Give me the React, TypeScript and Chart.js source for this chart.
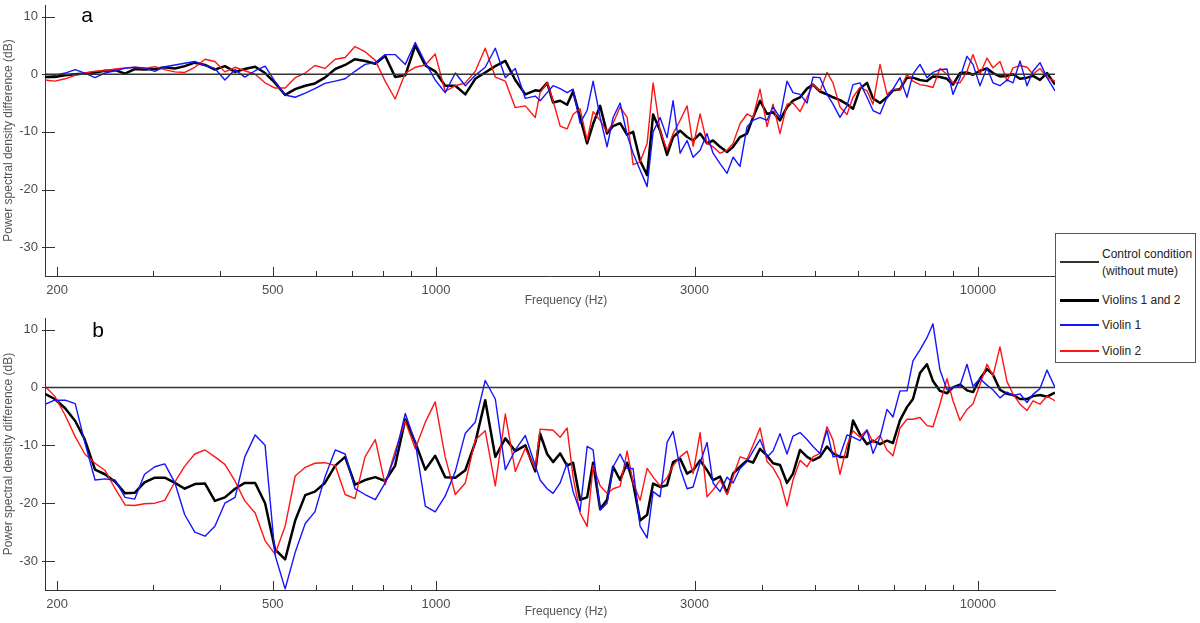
import React, { useEffect, useRef } from 'react';
import { Chart, registerables } from 'chart.js';

Chart.register(...registerables);

// frequency grid (Hz) shared by both panels
const freqs = [
  190, 198, 207, 216, 225, 235, 245, 256, 267, 278, 290, 303, 316, 330, 344, 359, 375, 391, 408, 426,
  444, 464, 484, 505, 527, 550, 574, 598, 624, 652, 680, 709, 740, 773, 806, 841, 878, 916, 956, 997,
  1040, 1086, 1133, 1182, 1233, 1287, 1343, 1401, 1462, 1525,
  1557, 1604, 1645, 1695, 1746, 1791, 1845, 1901, 1950, 2009, 2069, 2123, 2187, 2253, 2311, 2381, 2453, 2516, 2592, 2670,
  2739, 2822, 2907, 2982, 3072, 3164, 3246, 3344, 3445, 3534, 3640, 3750, 3847, 3963, 4083, 4188, 4314, 4444, 4559, 4697,
  4839, 4963, 5113, 5267, 5403, 5566, 5734, 5882, 6060, 6243, 6404, 6597, 6796, 6971, 7181, 7398, 7589, 7818, 8054, 8262,
  8511, 8768, 8995, 9266, 9546, 9793, 10088, 10393, 10661, 10983, 11315, 11607, 11958, 12319, 12637, 13019, 13412, 13875,
];

// panel a
const aViolins12 = [
  -0.5, -0.5, -0.2, 0, 0.1, 0.3, 0.6, 0.7, 0.1, 0.9, 0.8, 0.9, 1.2, 1.0, 1.4, 2.0, 1.6, 0.8, 1.4, 0.4,
  0.9, 1.3, 0.2, -1.5, -3.6, -2.6, -2.0, -1.6, -0.6, 0.9, 1.6, 2.6, 2.3, 1.8, 3.2, -0.5, -0.2, 5.0, 1.5, 0.5,
  -2.0, -2.0, -3.5, -0.8, 0.3, 1.4, 2.3, -1.0, -3.5, -2.8,
  -2.9, -1.5, -4.9, -4.6, -5.3, -3.0, -7.5, -12.0, -8.6, -5.5, -10.3, -9.0, -8.5, -10.5, -10.0, -15.0, -17.5, -7.0, -9.8, -14.0,
  -10.9, -9.8, -10.9, -11.5, -10.3, -12.0, -11.5, -12.6, -13.5, -12.6, -10.9, -10.3, -7.5, -4.6, -6.9, -6.6, -8.0, -5.7, -4.6, -4.0,
  -2.5, -1.8, -3.0, -3.5, -4.0, -4.5, -5.2, -6.0, -2.5, -1.5, -4.2, -5.0, -4.0, -2.8, -2.6, -0.6, -0.6, -1.0, -1.2, -0.4,
  -0.5, -0.8, -1.8, 0.2, 0.3, -0.1, 0.6, 1.0, 0.2, -0.4, -0.3, 0, -0.8, -0.6, -0.3, -1.0, 0.2, -1.8,
];
const aViolin1 = [
  0, -0.2, 0.2, 0.8, 0.2, -0.6, 0.2, 0.6, 1.0, 1.2, 1.1, 0.5, 1.3, 1.6, 1.9, 2.2, 1.5, 1.0, -1.0, 0.8,
  -0.5, 0.6, 1.4, -1.3, -3.6, -4.0, -3.3, -2.5, -1.6, -1.2, -0.8, 0.5, 1.7, 2.0, 3.4, 3.4, 1.7, 5.5, 2.0, -1.0,
  -3.2, 0.2, -2.0, -0.2, 1.2, 4.5, -0.6, 1.0, -4.2, -3.8,
  -4.6, -3.2, -2.0, -2.5, -3.2, -2.6, -8.5, -6.3, -1.2, -7.5, -12.6, -7.5, -5.0, -10.5, -13.7, -16.6, -19.5, -10.0, -7.5, -11.0,
  -4.6, -13.7, -11.5, -14.4, -13.2, -10.3, -13.7, -15.5, -17.2, -14.4, -16.0, -9.1, -8.0, -7.5, -8.0, -5.7, -7.5, -1.2, -3.2, -3.5,
  -5.0, -0.5, -0.6, -3.5, -5.2, -7.5, -5.5, -1.8, -1.5, -4.0, -6.3, -6.9, -4.0, -2.6, -0.6, -4.0, 0, 1.7, -0.6, 0.3,
  0.8, 0.9, -3.5, -0.6, 3.1, 1.7, -2.0, 1.1, -1.5, -2.0, -1.0, -1.5, 2.3, -2.0, 0.5, 2.0, -0.6, -2.9,
];
const aViolin2 = [
  -1.0, -1.2, -0.8, -0.2, 0.2, 0.5, 0.6, 0.9, 1.1, 1.2, 1.0, 1.3, 0.8, 0.4, 0.3, 1.2, 2.6, 2.2, 0.4, 1.2,
  0.6, 0, -1.5, -2.4, -2.4, -0.6, 0.2, 1.5, 1.0, 2.6, 2.9, 4.8, 3.9, 2.4, -1.2, -4.3, 0.2, 1.2, 1.6, 3.5,
  -3.0, -2.0, -1.5, 0.5, 4.5, -0.5, -1.2, -5.8, -5.5, -7.5,
  -3.2, -1.5, -4.6, -9.0, -9.5, -7.0, -6.0, -11.5, -6.5, -8.0, -10.0, -8.5, -5.7, -7.5, -15.7, -15.2, -12.0, -1.5, -9.8, -13.2,
  -10.3, -8.0, -5.5, -12.5, -6.9, -12.0, -12.6, -13.7, -13.2, -12.0, -8.6, -6.9, -7.5, -2.6, -9.1, -5.2, -10.3, -5.2, -5.0, -6.5,
  -4.0, -1.8, -2.9, 0.3, -1.5, -5.7, -7.0, -4.0, -2.3, -2.9, -5.2, 1.7, -3.5, -2.6, -2.8, 0, -1.2, -1.8, -2.0, -2.3,
  1.0, 0, -1.5, -1.5, 0.5, 3.4, 0, 2.8, 1.1, 2.2, -1.2, 1.1, 1.5, 1.2, 0, 1.0, -0.6, -1.2,
];

// panel b
const bViolins12 = [
  -1.1, -2.0, -3.6, -5.8, -9.0, -14.2, -15.0, -16.3, -18.3, -18.2, -16.4, -15.6, -15.6, -16.5, -17.5, -16.7, -16.6, -19.6, -19.0, -17.5,
  -16.5, -16.5, -20.0, -28.0, -29.7, -23.0, -18.6, -18.0, -16.5, -13.5, -12.0, -16.8, -16.0, -15.5, -16.2, -13.5, -5.5, -9.5, -14.2, -11.8,
  -15.5, -15.6, -14.3, -9.5, -2.2, -12.0, -8.8, -11.0, -10.0, -14.5,
  -8.0, -11.5, -12.9, -11.4, -13.5, -13.0, -19.4, -19.0, -13.0, -21.0, -19.4, -13.7, -16.0, -13.0, -16.5, -23.0, -22.0, -16.6, -17.2, -16.9,
  -12.9, -12.3, -14.9, -14.3, -12.6, -14.3, -16.0, -15.4, -18.3, -14.9, -13.7, -12.6, -13.0, -10.6, -11.8, -13.1, -13.4, -16.5, -14.9, -10.8,
  -12.0, -12.6, -12.0, -10.2, -11.4, -12.0, -12.0, -5.7, -8.1, -9.8, -9.2, -9.8, -9.2, -9.6, -5.7, -3.4, -2.0, 2.5, 4.0, 1.1,
  -0.6, -1.0, 0, 0.5, -0.5, -0.8, 1.5, 3.2, 2.2, -0.4, -1.1, -1.3, -2.0, -2.0, -1.5, -1.3, -1.6, -0.9,
];
const bViolin1 = [
  -2.9, -2.2, -2.2, -2.8, -9.5, -16.0, -15.8, -16.0, -19.0, -19.3, -15.0, -13.7, -13.2, -16.5, -22.0, -25.0, -25.7, -24.0, -20.0, -19.0,
  -12.0, -8.2, -10.0, -29.0, -34.8, -28.5, -23.5, -21.5, -15.5, -10.8, -11.5, -17.5, -18.5, -19.4, -16.5, -11.8, -4.5, -9.5, -20.5, -21.5,
  -18.8, -14.5, -7.9, -6.0, 1.2, -2.0, -14.2, -10.8, -8.3, -13.5,
  -16.0, -17.5, -18.3, -16.5, -13.1, -18.0, -21.4, -10.2, -10.8, -21.2, -20.0, -13.7, -11.5, -14.0, -14.0, -24.0, -26.0, -18.0, -18.9, -9.5,
  -7.6, -14.0, -17.5, -17.2, -13.0, -9.5, -16.5, -18.0, -15.5, -16.5, -14.0, -12.8, -11.0, -9.0, -12.0, -11.0, -8.0, -11.5, -8.4, -7.8,
  -9.0, -10.2, -11.4, -7.4, -12.0, -11.8, -8.2, -8.6, -9.2, -7.4, -11.4, -8.6, -3.8, -5.1, -0.6, -0.6, 4.6, 6.5, 8.6, 11.0,
  3.0, -0.4, 0, 0.3, 4.0, 0.2, 1.5, 0.4, -0.4, -1.8, -0.8, -1.4, -1.1, -2.6, -1.2, -0.2, 3.0, 0,
];
const bViolin2 = [
  0.2, -1.5, -4.8, -8.5, -11.5, -13.1, -14.3, -17.5, -20.3, -20.4, -20.1, -20.0, -19.5, -16.3, -13.6, -11.5, -10.8, -12.0, -13.3, -16.2,
  -19.6, -21.7, -26.5, -28.8, -24.0, -15.3, -13.8, -13.1, -13.0, -13.5, -18.5, -19.2, -12.0, -9.0, -16.8, -11.0, -5.8, -10.6, -6.0, -2.5,
  -12.0, -18.5, -16.5, -9.1, -7.5, -17.0, -4.6, -14.5, -10.5, -14.0,
  -7.2, -7.3, -7.4, -8.6, -7.0, -15.5, -21.7, -24.0, -13.5, -17.0, -18.3, -17.5, -17.1, -11.0, -16.5, -19.5, -14.0, -15.5, -17.0, -15.6,
  -13.5, -12.0, -11.0, -14.9, -7.8, -18.9, -17.7, -16.0, -18.5, -15.4, -12.0, -12.4, -10.0, -7.0, -12.8, -13.9, -16.0, -20.5, -16.0, -12.6,
  -13.7, -12.0, -11.4, -6.8, -9.1, -15.0, -10.0, -7.5, -8.6, -7.3, -9.5, -8.3, -10.8, -11.8, -7.0, -5.5, -5.5, -5.2, -6.6, -6.8,
  -2.9, 1.5, -2.3, -5.7, -3.8, -2.8, 0.5, 4.0, 2.0, 7.0, 1.0, -1.1, -2.9, -4.0, -2.3, -2.9, -1.5, -2.3,
];

// control condition (without mute) is the 0 dB reference
const controlFreqs = [190, 13875];
const controlValues = [0, 0];

const majorTicks = [200, 500, 1000, 3000, 10000];
const minorTicks = [300, 400, 600, 700, 800, 900, 2000, 4000, 5000, 6000, 7000, 8000, 9000];
const yTicks = [-30, -20, -10, 0, 10];

const FONT = '"Liberation Sans", Arial, sans-serif';

const toPoints = (xs: number[], ys: number[]) => xs.map((x, i) => ({ x, y: ys[i] }));

// MATLAB-like ticks drawn inward, plus panel letter and x label
const panelDecor = {
  id: 'panelDecor',
  afterDraw(chart: any, _args: any, opts: any) {
    const { ctx, chartArea, scales } = chart;
    ctx.save();
    ctx.strokeStyle = '#333';
    ctx.lineWidth = 1;
    ctx.beginPath();
    majorTicks.forEach((v) => {
      const x = Math.round(scales.x.getPixelForValue(v)) + 0.5;
      ctx.moveTo(x, chartArea.bottom);
      ctx.lineTo(x, chartArea.bottom - 9);
    });
    minorTicks.forEach((v) => {
      const x = Math.round(scales.x.getPixelForValue(v)) + 0.5;
      ctx.moveTo(x, chartArea.bottom);
      ctx.lineTo(x, chartArea.bottom - 5);
    });
    yTicks.forEach((v) => {
      const y = Math.round(scales.y.getPixelForValue(v)) + 0.5;
      ctx.moveTo(chartArea.left - 3, y);
      ctx.lineTo(chartArea.left + 10, y);
    });
    ctx.stroke();

    ctx.fillStyle = '#000';
    ctx.font = `21px ${FONT}`;
    ctx.textAlign = 'center';
    ctx.textBaseline = 'alphabetic';
    ctx.fillText(opts.letter, opts.letterX, opts.letterY);

    ctx.fillStyle = '#555';
    ctx.font = `12px ${FONT}`;
    ctx.textBaseline = 'middle';
    ctx.fillText('Frequency (Hz)', 566, opts.labelY);
    ctx.restore();
  },
};

interface PanelProps {
  top: number;
  height: number;
  padTop: number;
  axisHeight: number;
  letter: string;
  letterX: number;
  letterY: number;
  labelY: number;
  violins12: number[];
  violin1: number[];
  violin2: number[];
}

const Panel: React.FC<PanelProps> = (p) => {
  const canvasRef = useRef<HTMLCanvasElement | null>(null);

  useEffect(() => {
    if (!canvasRef.current) return;
    const chart = new Chart(canvasRef.current, {
      type: 'line',
      data: {
        datasets: [
          {
            label: 'Control condition (without mute)',
            data: toPoints(controlFreqs, controlValues),
            borderColor: '#333',
            borderWidth: 1.5,
          },
          {
            label: 'Violin 1',
            data: toPoints(freqs, p.violin1),
            borderColor: '#1414ff',
            borderWidth: 1.4,
          },
          {
            label: 'Violin 2',
            data: toPoints(freqs, p.violin2),
            borderColor: '#ff1414',
            borderWidth: 1.4,
          },
          {
            label: 'Violins 1 and 2',
            data: toPoints(freqs, p.violins12),
            borderColor: '#000',
            borderWidth: 2.5,
          },
        ],
      },
      options: {
        responsive: false,
        animation: false,
        devicePixelRatio: 1,
        parsing: false,
        elements: { point: { radius: 0 }, line: { tension: 0, borderJoinStyle: 'round' } },
        layout: { padding: { left: 0, right: 145, top: p.padTop, bottom: 0 } },
        plugins: {
          legend: { display: false },
          tooltip: { enabled: false },
          panelDecor: { letter: p.letter, letterX: p.letterX, letterY: p.letterY, labelY: p.labelY },
        } as any,
        scales: {
          x: {
            type: 'logarithmic',
            min: 190,
            max: 13875,
            afterBuildTicks: (scale: any) => {
              scale.ticks = majorTicks.map((value) => ({ value }));
            },
            afterFit: (scale: any) => {
              scale.height = p.axisHeight;
              scale.paddingLeft = 0;
              scale.paddingRight = 0;
            },
            ticks: {
              autoSkip: false,
              maxRotation: 0,
              padding: 7,
              color: '#4d4d4d',
              font: { family: FONT, size: 13 },
              callback: (v: any) => String(v),
            },
            grid: { display: true, drawOnChartArea: false, drawTicks: false },
            border: { display: true, color: '#333', width: 1 },
          },
          y: {
            type: 'linear',
            min: -35,
            max: 12,
            afterBuildTicks: (scale: any) => {
              scale.ticks = yTicks.map((value) => ({ value }));
            },
            afterFit: (scale: any) => {
              scale.width = 45;
              scale.paddingTop = 0;
              scale.paddingBottom = 0;
            },
            ticks: {
              padding: 7,
              color: '#4d4d4d',
              font: { family: FONT, size: 13 },
            },
            title: {
              display: true,
              text: 'Power spectral density difference (dB)',
              color: '#555',
              font: { family: FONT, size: 12 },
              padding: { top: 1, bottom: 0 },
            },
            grid: { display: true, drawOnChartArea: false, drawTicks: false },
            border: { display: true, color: '#333', width: 1 },
          },
        },
      },
      plugins: [panelDecor],
    });
    return () => chart.destroy();
  }, [p]);

  return (
    <canvas
      ref={canvasRef}
      width={1200}
      height={p.height}
      style={{ position: 'absolute', left: 0, top: p.top, width: 1200, height: p.height }}
    />
  );
};

const legendItems = [
  { y: 28, color: '#333', width: 1.5, lines: ['Control condition', '(without mute)'] },
  { y: 66, color: '#000', width: 3, lines: ['Violins 1 and 2'] },
  { y: 91, color: '#1414ff', width: 1.5, lines: ['Violin 1'] },
  { y: 117, color: '#ff1414', width: 1.5, lines: ['Violin 2'] },
];

const Legend: React.FC = () => (
  <div
    style={{
      position: 'absolute',
      left: 1055,
      top: 233,
      width: 139,
      height: 128,
      border: '1px solid #555',
      background: '#fff',
      fontFamily: FONT,
      fontSize: 12,
      color: '#222',
    }}
  >
    {legendItems.map((it) => (
      <React.Fragment key={it.lines[0]}>
        <div
          style={{
            position: 'absolute',
            left: 4,
            width: 39,
            top: it.y - it.width / 2,
            height: it.width,
            background: it.color,
          }}
        />
        {it.lines.map((t, i) => (
          <div
            key={t}
            style={{
              position: 'absolute',
              left: 46,
              top: it.lines.length > 1 ? it.y - 16 + i * 17 : it.y - 8,
              lineHeight: '16px',
              whiteSpace: 'nowrap',
            }}
          >
            {t}
          </div>
        ))}
      </React.Fragment>
    ))}
  </div>
);

const panelA: PanelProps = {
  top: 0, height: 312, padTop: 5, axisHeight: 36,
  letter: 'a', letterX: 87, letterY: 22, labelY: 301,
  violins12: aViolins12, violin1: aViolin1, violin2: aViolin2,
};
const panelB: PanelProps = {
  top: 311, height: 312, padTop: 7, axisHeight: 33,
  letter: 'b', letterX: 98, letterY: 26, labelY: 301,
  violins12: bViolins12, violin1: bViolin1, violin2: bViolin2,
};

export default function App() {
  return (
    <div style={{ position: 'fixed', left: 0, top: 0, width: 1200, height: 623, background: '#fff', overflow: 'hidden' }}>
      <Panel {...panelA} />
      <Panel {...panelB} />
      <Legend />
    </div>
  );
}
